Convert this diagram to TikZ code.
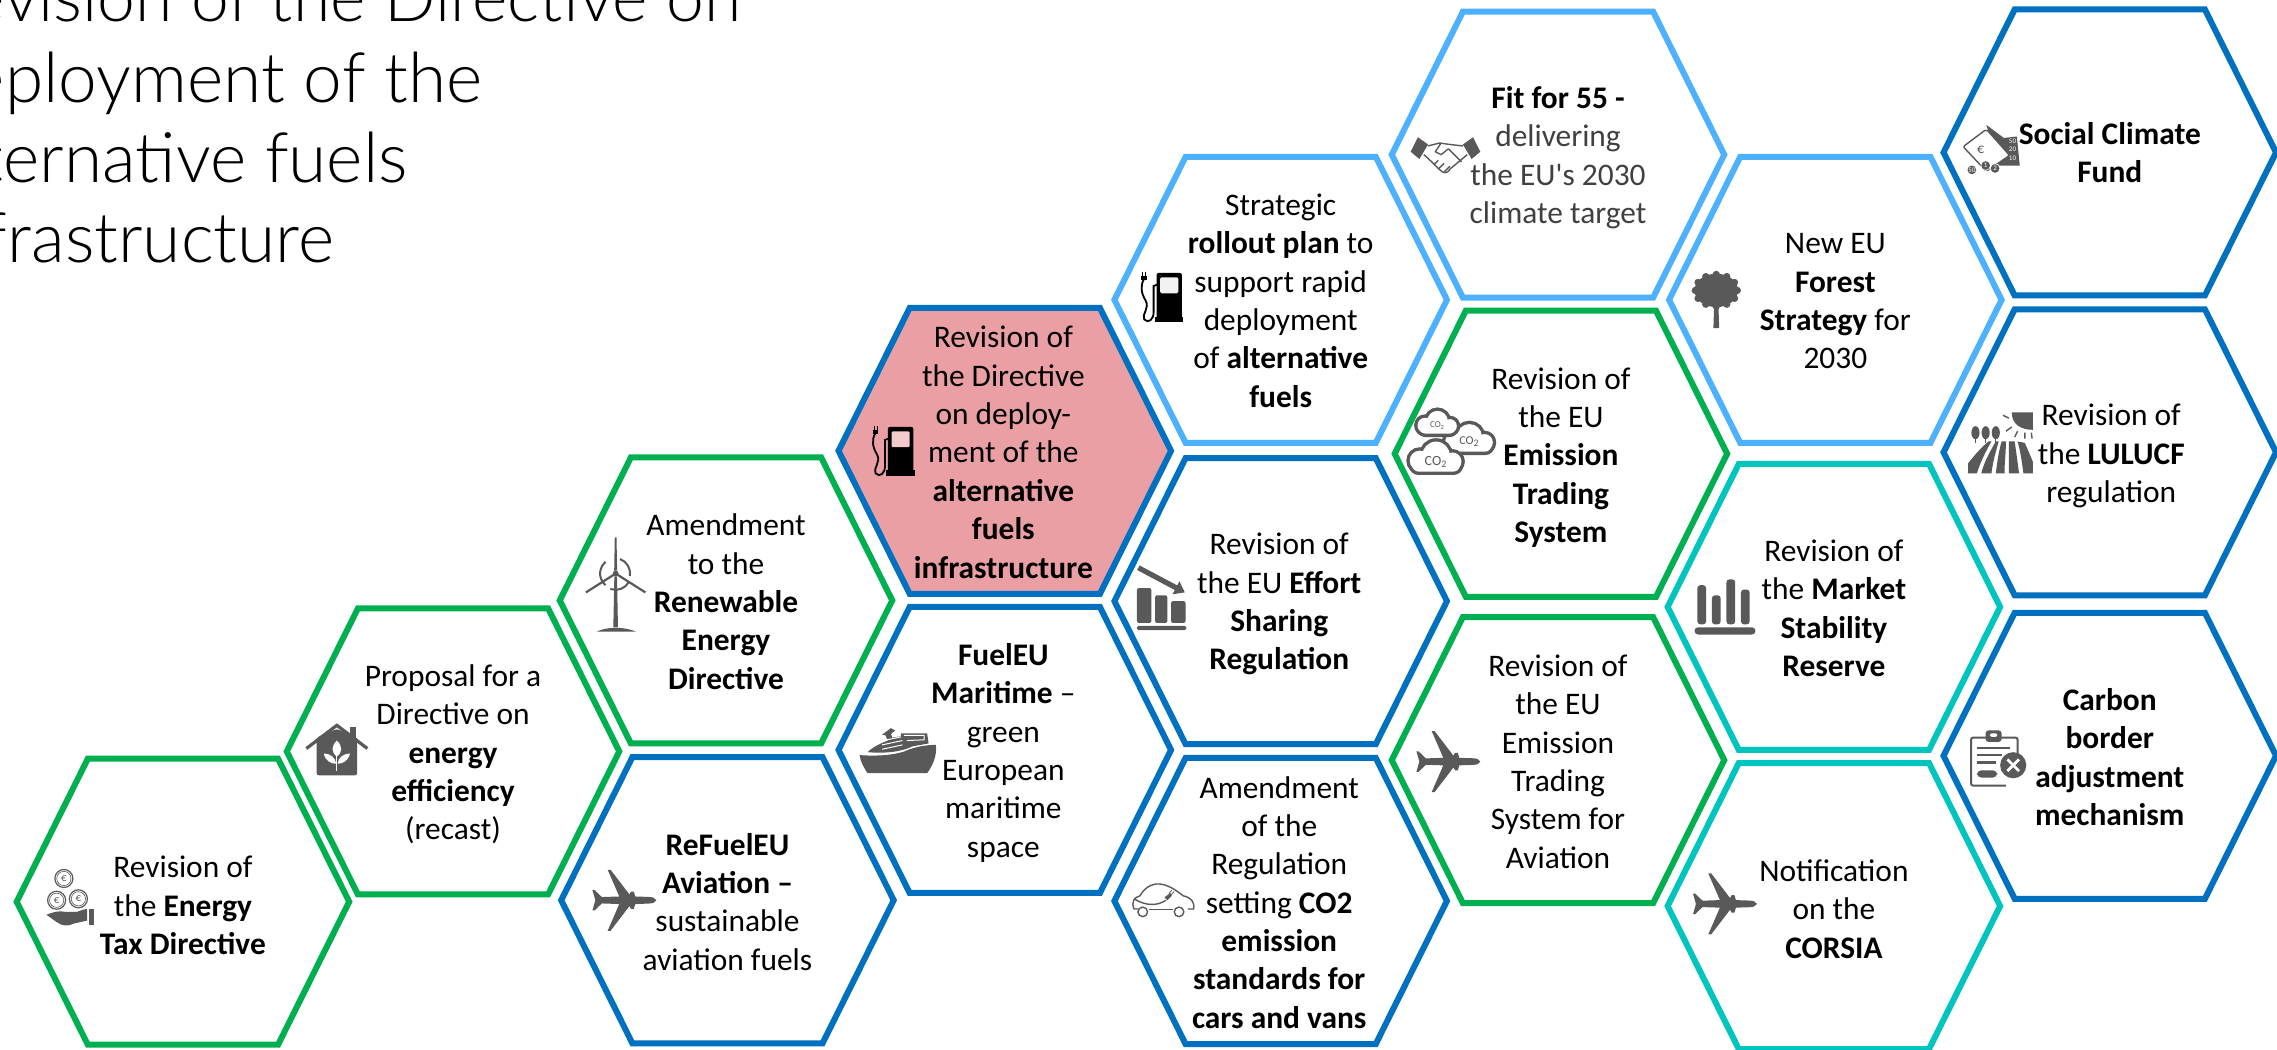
\documentclass[tikz,border=0pt]{standalone}
\usepackage{fontspec}
\setmainfont{Carlito}[Ligatures=TeXOff]
\newfontfamily\titlefont{Lato}[UprightFont=* Light]
\definecolor{hgreen}{HTML}{00B050}
\definecolor{hblue}{HTML}{0070C0}
\definecolor{hsky}{HTML}{4EB1FF}
\definecolor{hteal}{HTML}{00C4BE}
\definecolor{hred}{HTML}{E99FA3}
\definecolor{icon}{HTML}{595959}
\definecolor{soft}{HTML}{404040}
\usetikzlibrary{arrows.meta}
\tikzset{
  hexline/.style={line width=3pt,line join=miter},
  celltext/.style={align=center,inner sep=0pt,font=\fontsize{15.7}{19.17}\selectfont,text=black},
  titletext/.style={anchor=base west,inner sep=0pt,font=\titlefont\fontsize{#1}{40}\selectfont,text=black},
  tiny/.style={inner sep=0pt,text=icon,font=\fontsize{#1}{#1}\selectfont},
  pics/plane/.style={code={
    \fill[icon] (22.5,0) .. controls (22,-1.6) and (20,-2.2) .. (17,-2.3) -- (8,-2.6) -- (7,-6) -- (5,-6) -- (4,-4) -- (-9,-21) -- (-11,-21) -- (-3,-2.6) -- (-15,-2.2) -- (-20,-7) -- (-21.5,-7) -- (-19.5,0) -- (-21.5,7) -- (-20,7) -- (-15,2.2) -- (-3,2.6) -- (-11,21) -- (-9,21) -- (4,4) -- (5,6) -- (7,6) -- (8,2.6) -- (17,2.3) .. controls (20,2.2) and (22,1.6) .. (22.5,0) -- cycle;
  }},
  pics/pump/.style={code={
    \fill[black,rounded corners=1pt] (11.5,1) rectangle (29,33);
    \fill[black] (10.5,31) rectangle (30,35);
    \fill[#1,rounded corners=.7pt] (14,4) rectangle (26.5,15);
    \draw[black,line width=.9pt] (3,5) .. controls (0,10) and (1,15) .. (4,20) .. controls (7,25) and (1,30) .. (3,33) .. controls (6,36) and (9.5,33) .. (9.5,28) -- (9.5,10) -- (12,9);
    \fill[black] (1,3) rectangle (5,6);
    \draw[black,line width=.5pt] (2,3) -- (2,0.5) (4,3) -- (4,0.5);
  }},
  pics/coinhand/.style={code={
    \foreach \cx/\cy/\cn in {-3/-14/a,-8/1/b,7/0/c}{
      \draw[icon,line width=.6pt] (\cx,\cy) circle (6.2);
      \draw[icon,line width=.3pt] (\cx,\cy) circle (4.9);
      \node[tiny=5.5,name=coin\cn] at (\cx,\cy) {€};
    }
    \fill[icon] (-15,11) .. controls (-10,9) and (-6,8) .. (-2,9) -- (6,9) .. controls (9,8) and (11,7) .. (13,7) -- (13,15) -- (4,17) .. controls (0,19) and (-4,19) .. (-8,16) -- cycle;
    \fill[icon] (14,7) rectangle (18,18);
  }},
  pics/house/.style={code={
    \draw[icon,line width=1.6pt] (-21,-1.5) -- (0,-17.5) -- (21,-1.5);
    \fill[icon] (9,-16) rectangle (13,-8);
    \fill[icon,rounded corners=1.2pt] (-14,-9) -- (0,-15) -- (14,-9) -- (14,17) -- (-14,17) -- cycle;
    \fill[white] (0,-7) .. controls (-4,-3) and (-4,1) .. (0,4) .. controls (4,1) and (4,-3) .. (0,-7) -- cycle;
    \fill[white] (-9,2) .. controls (-8,7) and (-4,9) .. (-.5,9) .. controls (-1,5) and (-4,2) .. (-9,2) -- cycle;
    \fill[white] (9,2) .. controls (8,7) and (4,9) .. (.5,9) .. controls (1,5) and (4,2) .. (9,2) -- cycle;
    \draw[white,line width=.4pt] (0,3) -- (0,14);
  }},
  pics/turbine/.style={code={
    \fill[icon] (-.6,-25) -- (.6,-25) -- (1,-2) -- (-1,-2) -- cycle;
    \fill[icon] (-.9,2) -- (.9,2) -- (1.6,37) -- (-1.6,37) -- cycle;
    \fill[icon] (-13,40) .. controls (-6,36.5) and (6,36.5) .. (14,40) -- cycle;
    \draw[icon,line width=1.1pt] (0,0) -- (-20.5,13) (0,0) -- (20.5,13);
    \fill[icon] (0,0) circle (2);
    \draw[icon,line width=1pt] (-7,8) arc (130:230:10.5);
    \draw[icon,line width=1pt] (3,-10) arc (-70:10:10.5);
    \draw[icon,line width=1pt] (9,6) arc (30:110:10.5);
  }},
  pics/ship/.style={code={
    \fill[icon] (-26.5,3) .. controls (-14,4) and (0,3) .. (8,-1) .. controls (14,-3) and (20,-4) .. (26,-4) .. controls (27,3) and (24,10) .. (20,15.5) -- (-21,15.5) .. controls (-24,11) and (-26,7) .. (-26.5,3) -- cycle;
    \fill[icon] (-21,1) .. controls (-17,-3) and (-12,-5) .. (-7,-7) -- (-9,-11) -- (-5,-12) -- (-4,-9) -- (2,-10) -- (2,-12) -- (20,-12) -- (21,-5) -- (10,-3) .. controls (2,1) and (-10,2) .. (-21,1) -- cycle;
    \fill[icon] (-11,-11) -- (-5,-15.5) -- (-2,-14) -- (-6,-10.5) -- cycle;
    \draw[white,line width=.5pt] (-11,-4) -- (3,-7) (-11,-1) -- (3,-4) (-10,-7) -- (2,-9.5) (4,-10.5) -- (18,-10.5) -- (18,-7.5) -- (6,-7);
  }},
  pics/chartdown/.style={code={
    \draw[icon,line width=2.6pt,-{Triangle[length=5pt,width=7pt]}] (-16,-21) -- (16,-4);
    \fill[icon,rounded corners=1pt] (-17,-7) rectangle (-7,17);
    \fill[icon,rounded corners=1pt] (-4.5,-2) rectangle (4,17);
    \fill[icon,rounded corners=1pt] (6.5,2) rectangle (16.5,17);
    \fill[icon,rounded corners=.8pt] (-17,19) rectangle (17,22);
  }},
  pics/car/.style={code={
    \draw[icon,line width=.7pt,line join=round] (-17,5) -- (-20,5) .. controls (-22,0) and (-20,-3) .. (-16,-4) .. controls (-12,-11) and (-6,-13) .. (-1,-12) .. controls (5,-11) and (10,-7) .. (14,-4) .. controls (19,-3) and (22,0) .. (21,5) -- (17,5);
    \draw[icon,line width=.7pt] (-14,7) circle (3.3) (11,7) circle (3.3);
    \draw[icon,line width=.7pt] (-10,5.5) -- (7,5.5);
    \draw[icon,line width=.7pt] (-20,-2) .. controls (-12,3) and (-4,3) .. (2,-1);
    \fill[icon] (1,-3) -- (5,-6) -- (6,-4) -- (3,-1) -- cycle;
    \draw[icon,line width=.4pt] (4,-5.5) -- (6,-8) (5.5,-4.5) -- (7.5,-7);
  }},
  pics/shake/.style={code={
    \fill[icon] (-24,-2) -- (-19,-12) -- (-12,-7) -- (-18,3) -- cycle;
    \fill[icon] (24,-2) -- (19,-12) -- (12,-7) -- (18,3) -- cycle;
    \draw[icon,line width=.7pt,line join=round] (-15,0) .. controls (-10,4) and (-7,8) .. (-2,12) .. controls (0,13) and (2,12) .. (3,10) -- (15,0);
    \draw[icon,line width=.7pt,line join=round] (-12,-6) -- (-4,-8) -- (3,-7) -- (12,-6);
    \draw[icon,line width=.7pt,line join=round] (-3,-8) -- (-7,-2) -- (-3,0) -- (2,-4) -- (11,5);
    \draw[icon,line width=.7pt] (-8,7) -- (-5,4) (-5,10) -- (-1,6) (-1,12) -- (3,8);
  }},
  pics/cloud/.style={code={
    \path[fill=icon,draw=icon,line width=3.4pt,rounded corners=3pt] (-13*#1,-3*#1) rectangle (13*#1,7*#1);
    \path[fill=icon,draw=icon,line width=3.4pt] (-9*#1,1*#1) circle (5.5*#1) (0,-2*#1) circle (7.5*#1) (9*#1,1.5*#1) circle (5*#1);
    \path[fill=white,rounded corners=3pt] (-13*#1,-3*#1) rectangle (13*#1,7*#1);
    \path[fill=white] (-9*#1,1*#1) circle (5.5*#1);
    \path[fill=white] (0,-2*#1) circle (7.5*#1);
    \path[fill=white] (9*#1,1.5*#1) circle (5*#1);
  }},
  pics/bars/.style={code={
    \foreach \a/\b/\t in {-19/-13/-15,-9/-3/-8,1/7/-19,11/17/-12}{
      \fill[icon,rounded corners=1.5pt] (\a,\t) rectangle (\b,12);
    }
    \fill[icon,rounded corners=1.8pt] (-21,14) rectangle (21,19);
  }},
  pics/tree/.style={code={
    \fill[icon] (-1.4,2) -- (1.4,2) -- (2,19.5) -- (-2,19.5) -- cycle;
    \fill[icon] (0,-6.5) ellipse (15 and 11.5);
    \foreach \ang in {0,30,...,330}{
      \fill[icon] ({14.5*cos(\ang)},{-6.5+11*sin(\ang)}) circle (2.5);
    }
  }},
  pics/notes/.style={code={
    \fill[icon] (-3,-18) -- (9,-9) -- (18,-10) -- (20,10) -- (5,10) -- cycle;
    \draw[icon,fill=white,line width=.7pt,rounded corners=1pt] (-19,-3) -- (-3,-15) -- (13,3) -- (-3,14) -- cycle;
    \node[tiny=7,name=note] at (-7,-1) {€};
    \foreach \cx/\cy/\ct/\cn in {-3.5/10/1/a,3/12/2/b,-13/13/50/c}{
      \fill[white] (\cx,\cy) circle (3.6);
      \fill[icon] (\cx,\cy) circle (3);
      \node[inner sep=0pt,text=white,font=\fontsize{3.5}{3.5}\selectfont,name=coin\cn] at (\cx,\cy) {\ct};
    }
    \foreach \cy/\ct/\cn in {-7/50/a,-1/20/b,5/10/c}{
      \node[inner sep=0pt,text=white,font=\fontsize{3.5}{3.5}\selectfont,name=val\cn] at (15,\cy) {\ct};
    }
  }},
  pics/farm/.style={code={
    \fill[icon] (22.5,-21) -- (8,-21) .. controls (8,-13) and (14,-9) .. (22.5,-9) -- cycle;
    \draw[icon,line width=.7pt] (6,-17) -- (2,-19) (8,-11) -- (4,-8) (12,-8) -- (10,-4) (17,-7) -- (17,-3) (21.5,-7) -- (22,-3);
    \foreach \tx in {-17,-10,-3}{
      \fill[icon] (\tx,-7) ellipse (2.8 and 4.5);
      \draw[icon,line width=.6pt] (\tx,-5) -- (\tx,0);
    }
    \fill[icon] (-22,21) -- (-22,14) .. controls (-18,9) and (-14,4) .. (-8,-1) -- (-6,-1) .. controls (-10,6) and (-14,14) .. (-16,21) -- cycle;
    \fill[icon] (-13,21) .. controls (-11,13) and (-7,6) .. (-3,-1) -- (-1,-1) .. controls (-3,6) and (-5,13) .. (-6,21) -- cycle;
    \fill[icon] (-3,21) .. controls (-2,13) and (-1,6) .. (1,-1) -- (4,-1) .. controls (4,6) and (3,13) .. (3,21) -- cycle;
    \fill[icon] (6,21) .. controls (6,13) and (6,6) .. (6,-1) -- (10,-1) .. controls (11,6) and (12,13) .. (13,21) -- cycle;
    \fill[icon] (16,21) .. controls (15,13) and (14,6) .. (12,-1) -- (17,0) .. controls (19,5) and (21,9) .. (22.5,13) -- (22.5,21) -- cycle;
  }},
  pics/clipb/.style={code={
    \draw[icon,line width=1pt,rounded corners=1pt] (13,-2) -- (13,-14) -- (-19,-14) -- (-19,19) -- (5,19);
    \fill[icon,rounded corners=1.5pt] (-9,-19) rectangle (2,-11);
    \fill[white,rounded corners=1pt] (-6,-17) rectangle (-1,-14.5);
    \draw[icon,line width=1.2pt] (-15,-7) -- (8,-7) (-15,-2) -- (2,-2) (-15,3) -- (-2,3);
    \fill[icon,rounded corners=2.2pt] (-15,8.5) rectangle (-1,13.5);
    \fill[icon] (10,5) circle (9);
    \draw[white,line width=1.4pt] (6,1) -- (14,9) (14,1) -- (6,9);
  }}
}
\newcommand\hexcell[8]{%
  \draw[hexline,draw=#4,fill=#5] ({#2-114.5},{#3}) -- ({#2-65.5},{#3-98.5}) -- ({#2+65.5},{#3-98.5}) -- ({#2+114.5},{#3}) -- ({#2+65.5},{#3+98.5}) -- ({#2-65.5},{#3+98.5}) -- cycle;
  \node[celltext] (#1) at (#6,#7) {#8};
}
\begin{document}
\begin{tikzpicture}[x=0.726pt,y=-0.726pt]
\useasboundingbox (0,0) rectangle (1568.18,722.45);
\clip (0,0) rectangle (1568.18,722.45);
\node[titletext=33.9] (title1) at (-48,15) {Revision of the Directive on};
\node[titletext=34.7] (title2) at (-48,70.5) {deployment of the};
\node[titletext=34.7] (title3) at (-48,126) {alternative fuels};
\node[titletext=34.7] (title4) at (-48,181) {infrastructure};

\hexcell{tax}{126}{621}{hgreen}{white}{126}{623.5}{Revision of\\the \textbf{Energy}\\\textbf{Tax Directive}}
\hexcell{eff}{312}{517.5}{hgreen}{white}{312}{519.5}{Proposal for a\\Directive on\\\textbf{energy}\\\textbf{efficiency}\\(recast)}
\hexcell{red}{500}{413.5}{hgreen}{white}{500}{414.5}{Amendment\\to the\\\textbf{Renewable}\\\textbf{Energy}\\\textbf{Directive}}
\hexcell{refuel}{501}{620}{hblue}{white}{501}{621}{\textbf{ReFuelEU}\\\textbf{Aviation –}\\sustainable\\aviation fuels}
\hexcell{afi}{692}{310.5}{hblue}{hred}{691}{311.5}{Revision of\\the Directive\\on deploy-\\ment of the\\\textbf{alternative}\\\textbf{fuels}\\\textbf{infrastructure}}
\hexcell{maritime}{692}{516.5}{hblue}{white}{691}{518.5}{\textbf{FuelEU}\\\textbf{Maritime} –\\green\\European\\maritime\\space}
\hexcell{rollout}{882}{206.5}{hsky}{white}{882}{207}{Strategic\\\textbf{rollout plan} to\\support rapid\\deployment\\of \textbf{alternative}\\\textbf{fuels}}
\hexcell{effort}{882}{414}{hblue}{white}{881}{416}{Revision of\\the EU \textbf{Effort}\\\textbf{Sharing}\\\textbf{Regulation}}
\hexcell{cars}{882}{620.5}{hblue}{white}{881}{621.5}{Amendment\\of the\\Regulation\\setting \textbf{CO2}\\\textbf{emission}\\\textbf{standards for}\\\textbf{cars and vans}}
\hexcell{fit}{1073}{106.5}{hsky}{white}{1073}{108.5}{\textbf{Fit for 55 -}\\\textcolor{soft}{delivering}\\\textcolor{soft}{the EU's 2030}\\\textcolor{soft}{climate target}}
\hexcell{ets}{1075}{312.5}{hgreen}{white}{1075}{315}{Revision of\\the EU\\\textbf{Emission}\\\textbf{Trading}\\\textbf{System}}
\hexcell{etsav}{1073}{523.5}{hgreen}{white}{1073}{524.5}{Revision of\\the EU\\Emission\\Trading\\System for\\Aviation}
\hexcell{forest}{1264}{206.5}{hsky}{white}{1264}{207.5}{New EU\\\textbf{Forest}\\\textbf{Strategy} for\\2030}
\hexcell{msr}{1263}{418}{hteal}{white}{1263}{419}{Revision of\\the \textbf{Market}\\\textbf{Stability}\\\textbf{Reserve}}
\hexcell{corsia}{1263}{624}{hteal}{white}{1263}{626}{Notification\\on the\\\textbf{CORSIA}}
\hexcell{social}{1453}{105}{hblue}{white}{1453}{105}{\textbf{Social Climate}\\\textbf{Fund}}
\hexcell{lulucf}{1453}{311.5}{hblue}{white}{1454}{314}{Revision of\\the \textbf{LULUCF}\\regulation}
\hexcell{cbam}{1453}{520.5}{hblue}{white}{1453}{521.5}{\textbf{Carbon}\\\textbf{border}\\\textbf{adjustment}\\\textbf{mechanism}}

\pic at (47,619) {coinhand};
\pic at (232,517) {house};
\pic at (424,395) {turbine};
\pic at (429.5,620) {plane};
\pic at (600,293) {pump=hred!55!white};
\pic at (785,187) {pump=white!90!gray};
\pic at (618.5,517) {ship};
\pic at (800,412) {chartdown};
\pic at (801,621) {car};
\pic at (995.5,106.5) {shake};
\pic at (997,524.5) {plane};
\pic at (1187.5,622.5) {plane};
\pic at (1182,206.5) {tree};
\pic at (1188,418) {bars};
\pic at (1371,104) {notes};
\pic at (1377.5,305) {farm};
\pic at (1376.5,522) {clipb};
\pic at (1012,303) {cloud=1.15};
\node[tiny=6] (coB) at (1012,304) {CO\textsubscript{2}};
\pic at (990,292) {cloud=0.95};
\node[tiny=4.5] (coA) at (990,293) {CO\textsubscript{2}};
\pic at (989,316) {cloud=1.25};
\node[tiny=7] (coC) at (989,318) {CO\textsubscript{2}};
\end{tikzpicture}
\end{document}
